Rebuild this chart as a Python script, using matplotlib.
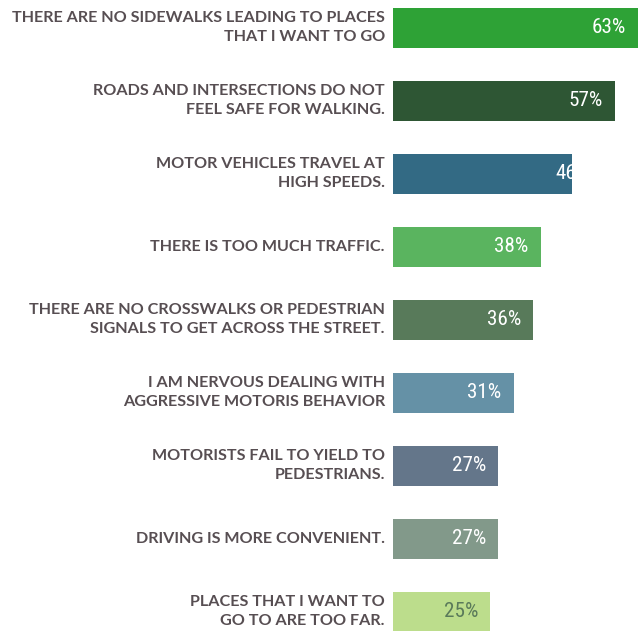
import matplotlib
matplotlib.use("Agg")
import matplotlib.pyplot as plt
from matplotlib import font_manager

categories = [
    "THERE ARE NO SIDEWALKS LEADING TO PLACES\nTHAT I WANT TO GO",
    "ROADS AND INTERSECTIONS DO NOT\nFEEL SAFE FOR WALKING.",
    "MOTOR VEHICLES TRAVEL AT\nHIGH SPEEDS.",
    "THERE IS TOO MUCH TRAFFIC.",
    "THERE ARE NO CROSSWALKS OR PEDESTRIAN\nSIGNALS TO GET ACROSS THE STREET.",
    "I AM NERVOUS DEALING WITH\nAGGRESSIVE MOTORIS BEHAVIOR",
    "MOTORISTS FAIL TO YIELD TO\nPEDESTRIANS.",
    "DRIVING IS MORE CONVENIENT.",
    "PLACES THAT I WANT TO\nGO TO ARE TOO FAR.",
]
values = [63, 57, 46, 38, 36, 31, 27, 27, 25]
colors = ["#2ea236", "#2e5634", "#336a84", "#5ab45f", "#587a5a",
          "#6591a6", "#64768a", "#82998a", "#bcdd8c"]
value_colors = ["white"] * 8 + ["#5a7a5a"]

fonts = font_manager.fontManager.ttflist
bold_names = {f.name for f in fonts if f.weight in (700, "bold")}
all_names = {f.name for f in fonts}


def pick(prefs, pool):
    for p in prefs:
        if p in pool:
            return p
    return "DejaVu Sans"


label_font = pick(["Montserrat", "Nunito Sans", "Figtree", "Raleway",
                   "Lato"], bold_names)
value_font = pick(["Roboto Condensed", "Archivo Narrow", "PT Sans Narrow",
                   "Abel", "Liberation Sans Narrow"], all_names)

fig = plt.figure(figsize=(6.4, 6.31), dpi=100)
ax = fig.add_axes([393 / 640, 0, 1 - 393 / 640, 1])
ax.set_xlim(0, 63.5)
ax.set_ylim(8.267, -0.377)
ax.axis("off")

pos = list(range(len(values)))
bars = ax.barh(pos, values, height=0.548, color=colors)

# size the labels so the longest line is about 373 px wide, like the original
renderer = fig.canvas.get_renderer()
probe = fig.text(0, 0, categories[0].split("\n")[0], fontsize=10,
                 fontweight="bold", family=label_font)
w = probe.get_window_extent(renderer).width
probe.remove()
label_size = 10 * 373 / w

probe = fig.text(0, 0, "63%", fontsize=10, family=value_font)
vw = probe.get_window_extent(renderer).width
probe.remove()
value_size = 10 * 34 / vw

for i, (b, v) in enumerate(zip(bars, values)):
    ax.annotate(categories[i], xy=(0, i), xytext=(-8, 0),
                textcoords="offset pixels",
                ha="right", va="center", fontsize=label_size, fontweight="bold",
                family=label_font, color="#574e52", linespacing=1.45,
                annotation_clip=False)
    # the 46% label sits too far right in the original and gets cut by the bar
    dx = 18 if v == 46 else -12
    t = ax.annotate(f"{v}%", xy=(v, i), xytext=(dx, 0),
                    textcoords="offset pixels", ha="right", va="center",
                    fontsize=value_size, family=value_font,
                    color=value_colors[i])
    if v == 46:
        t.set_clip_path(b)

fig.savefig("out.png", dpi=100)
